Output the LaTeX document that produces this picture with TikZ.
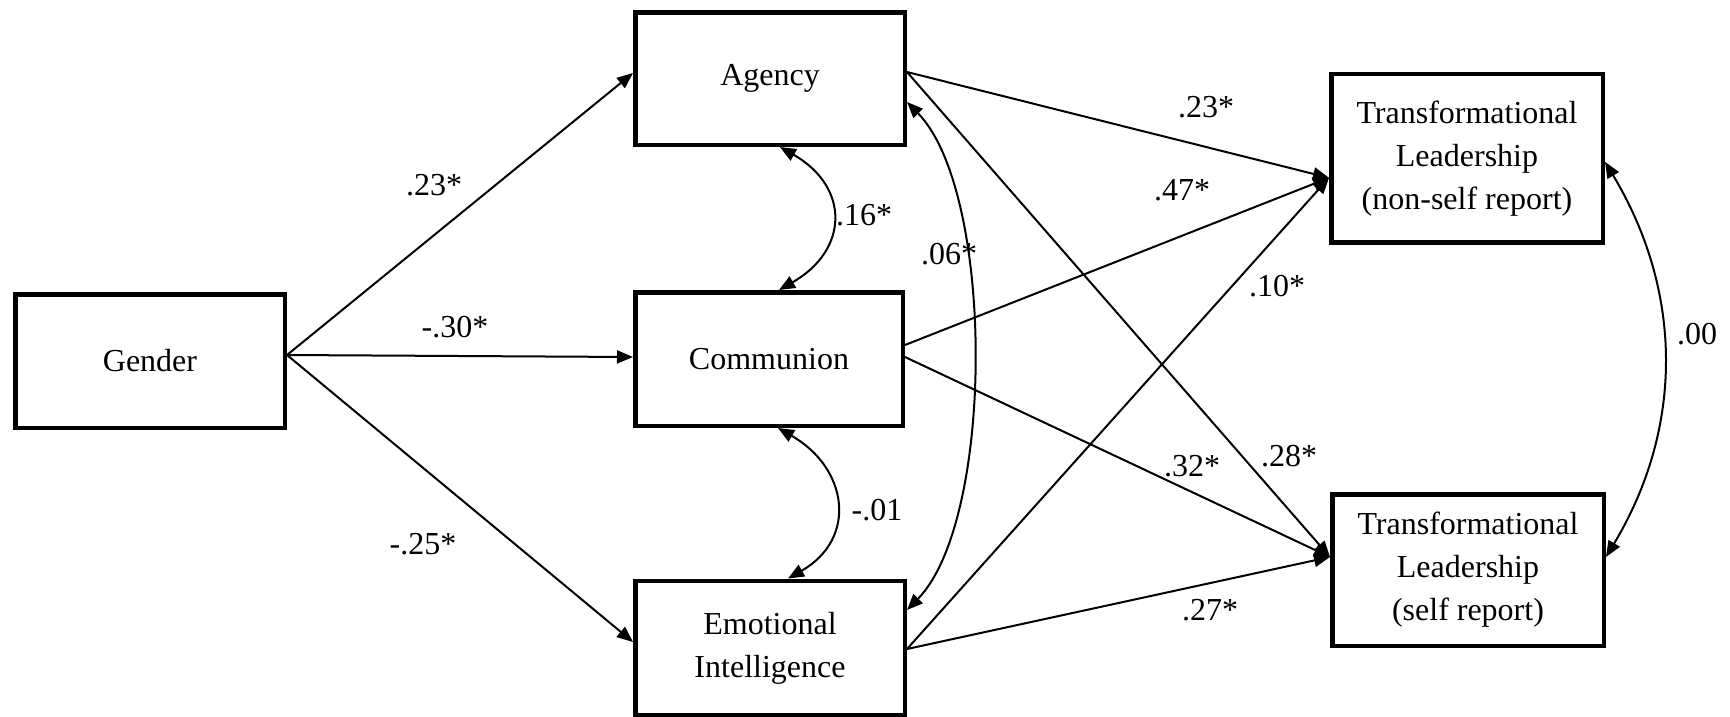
\documentclass[tikz,border=0pt]{standalone}
\usepackage{fontspec}
\setmainfont{Liberation Serif}
\usetikzlibrary{arrows.meta}
\begin{document}
\begin{tikzpicture}[x=1pt,y=-1pt,
  box/.style={draw, line width=4.5pt, rectangle, align=center,
    font=\fontsize{32}{43}\selectfont, inner sep=0pt},
  tip/.tip={Triangle[length=16pt,width=13pt]},
  pth/.style={line width=2pt, -tip},
  cov/.style={line width=2pt, tip-tip},
  lab/.style={font=\fontsize{32}{36}\selectfont, inner sep=0pt}]
\useasboundingbox (0,0) rectangle (1730,716);
\fill[white] (0,0) rectangle (1730,716);

\node[box, minimum width=269.5pt, minimum height=133.5pt] (gender) at (150,361) {Gender};
\node[box, minimum width=269.5pt, minimum height=132.5pt] (agency) at (770,78.5) {Agency};
\node[box, minimum width=267.5pt, minimum height=133.5pt] (comm) at (769,359) {Communion};
\node[box, minimum width=269.5pt, minimum height=134.5pt] (ei) at (770,648) {Emotional\\Intelligence};
\node[box, minimum width=271.5pt, minimum height=168.5pt] (tlns) at (1467,158.3) {Transformational\\Leadership\\(non-self report)};
\node[box, minimum width=271.5pt, minimum height=151.5pt] (tls) at (1468,570) {Transformational\\Leadership\\(self report)};

% Gender paths
\draw[pth] ([yshift=6pt]gender.east) -- ([yshift=5.5pt]agency.west);
\draw[pth] ([yshift=6pt]gender.east) -- ([yshift=2pt]comm.west);
\draw[pth] ([yshift=6pt]gender.east) -- ([yshift=6pt]ei.west);

% to TL non-self
\draw[pth] ([yshift=6.5pt]agency.east) -- ([yshift=-19.5pt]tlns.west);
\draw[pth] ([yshift=14pt]comm.east) -- ([yshift=-19.5pt]tlns.west);
\draw[pth] ([yshift=-1pt]ei.east) -- ([yshift=-19.5pt]tlns.west);
% to TL self
\draw[pth] ([yshift=6.5pt]agency.east) -- ([yshift=13pt]tls.west);
\draw[pth] ([yshift=2pt]comm.east) -- ([yshift=13pt]tls.west);
\draw[pth] ([yshift=-1pt]ei.east) -- ([yshift=13pt]tls.west);

% covariances
\draw[cov] ([xshift=10pt]agency.south) .. controls +(70,40) and +(70,-40) .. ([xshift=10pt]comm.north);
\draw[cov] ([xshift=9pt]comm.south) .. controls +(70,40) and +(70,-40) .. ([xshift=18pt]ei.north);
\draw[cov] ([yshift=-23.5pt]agency.east) .. controls +(88,90) and +(88,-90) .. ([yshift=38pt]ei.east);
\draw[cov] ([yshift=-3.5pt]tlns.east) .. controls +(78,130) and +(78,-130) .. ([yshift=13pt]tls.east);

% labels
\node[lab] (l1) at (434,185) {.23*};
\node[lab] (l2) at (455,327) {-.30*};
\node[lab] (l3) at (423,544) {-.25*};
\node[lab] (l4) at (864,215) {.16*};
\node[lab] (l5) at (877,510) {-.01};
\node[lab] (l6) at (949,254) {.06*};
\node[lab] (l7) at (1206,107) {.23*};
\node[lab] (l8) at (1182,190) {.47*};
\node[lab] (l9) at (1277,286) {.10*};
\node[lab] (l10) at (1289,456) {.28*};
\node[lab] (l11) at (1192,466) {.32*};
\node[lab] (l12) at (1210,610) {.27*};
\node[lab] (l13) at (1697,334) {.00};
\end{tikzpicture}
\end{document}
